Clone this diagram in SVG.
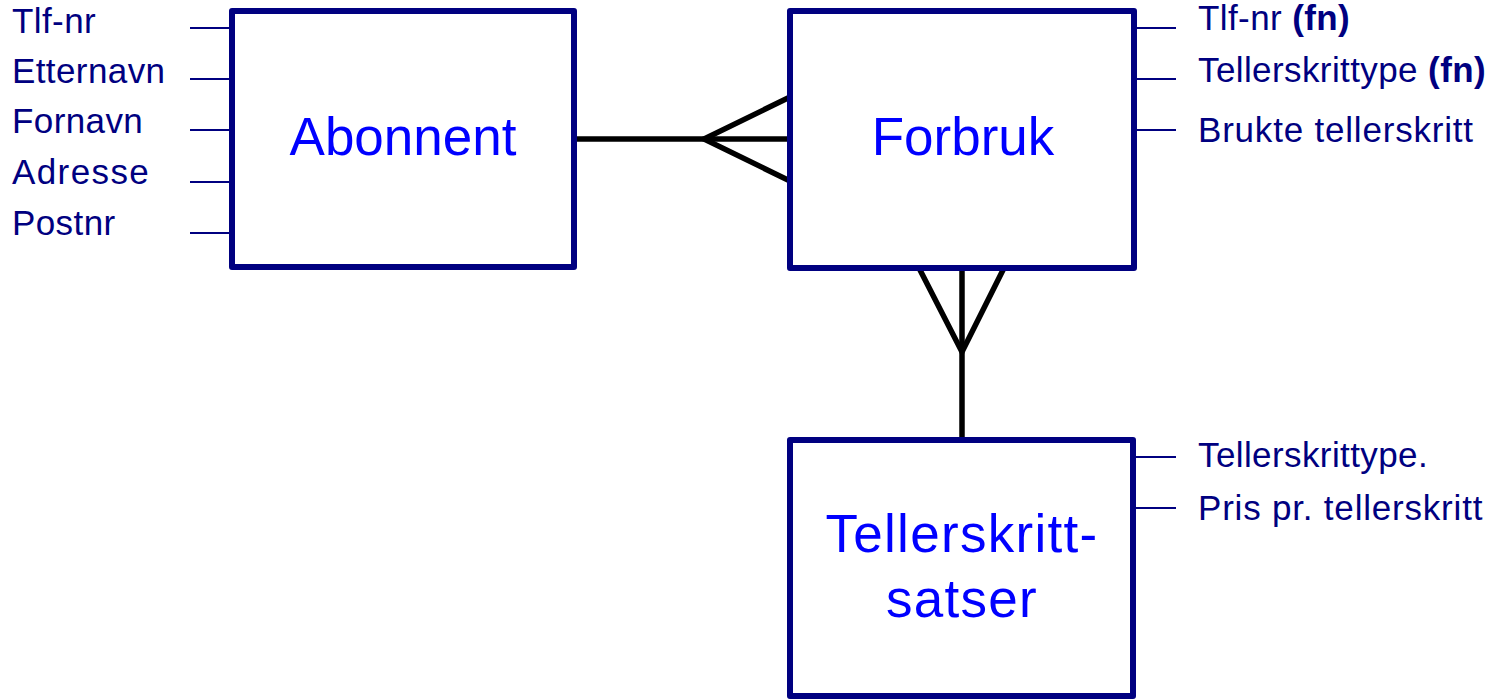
<svg xmlns="http://www.w3.org/2000/svg" width="1504" height="699" viewBox="0 0 1504 699">
  <style>
    .entity { fill: #ffffff; stroke: #000080; stroke-width: 6; stroke-linejoin: round; }
    .title { font-family: "Liberation Sans", Arial, sans-serif; font-size: 53px; fill: #0000ff; text-anchor: middle; }
    .attr { font-family: "Liberation Sans", Arial, sans-serif; font-size: 35px; fill: #000080; letter-spacing: 0.4px; }
    .wide { letter-spacing: 0.8px; }
    .attr-line { stroke: #000080; stroke-width: 2; fill: none; }
    .rel { stroke: #000000; stroke-width: 5.5; fill: none; stroke-linejoin: miter; }
    .key { font-weight: bold; }
  </style>

  <rect width="1504" height="699" fill="#ffffff"/>

  <!-- relationships -->
  <g id="connectors">
    <!-- Abonnent 1 : N Forbruk -->
    <line class="rel" x1="577" y1="139" x2="790" y2="139"/>
    <polyline class="rel" points="790,97 704,139 790,181"/>
    <!-- Tellerskrittsatser 1 : N Forbruk -->
    <line class="rel" x1="962" y1="268" x2="962" y2="440"/>
    <polyline class="rel" points="919,268 962,352 1004,268"/>
  </g>

  <!-- Abonnent -->
  <g id="abonnent">
    <rect class="entity" x="232" y="11" width="342" height="256"/>
    <text class="title" x="403" y="155">Abonnent</text>
    <line class="attr-line" x1="190" y1="28" x2="230" y2="28"/>
    <line class="attr-line" x1="190" y1="79" x2="230" y2="79"/>
    <line class="attr-line" x1="190" y1="130" x2="230" y2="130"/>
    <line class="attr-line" x1="190" y1="182" x2="230" y2="182"/>
    <line class="attr-line" x1="190" y1="233" x2="230" y2="233"/>
    <text class="attr" x="12" y="33">Tlf-nr</text>
    <text class="attr" x="12" y="83">Etternavn</text>
    <text class="attr" x="12" y="133">Fornavn</text>
    <text class="attr" x="12" y="184" style="letter-spacing:1.4px">Adresse</text>
    <text class="attr" x="12" y="235">Postnr</text>
  </g>

  <!-- Forbruk -->
  <g id="forbruk">
    <rect class="entity" x="790" y="11" width="344" height="257"/>
    <text class="title" x="963" y="155">Forbruk</text>
    <line class="attr-line" x1="1136" y1="28" x2="1176" y2="28"/>
    <line class="attr-line" x1="1136" y1="79" x2="1176" y2="79"/>
    <line class="attr-line" x1="1136" y1="130" x2="1176" y2="130"/>
    <text class="attr" x="1198" y="30">Tlf-nr <tspan class="key">(fn)</tspan></text>
    <text class="attr" x="1198" y="82">Tellerskrittype <tspan class="key">(fn)</tspan></text>
    <text class="attr wide" x="1198" y="142">Brukte tellerskritt</text>
  </g>

  <!-- Tellerskrittsatser -->
  <g id="tellerskrittsatser">
    <rect class="entity" x="790" y="440" width="343" height="256"/>
    <text class="title" x="962" y="552" style="letter-spacing:1.3px">Tellerskritt-</text>
    <text class="title" x="962" y="617" style="letter-spacing:1.3px">satser</text>
    <line class="attr-line" x1="1135" y1="457" x2="1176" y2="457"/>
    <line class="attr-line" x1="1135" y1="508" x2="1176" y2="508"/>
    <text class="attr" x="1198" y="467">Tellerskrittype.</text>
    <text class="attr wide" x="1198" y="520">Pris pr. tellerskritt</text>
  </g>
</svg>
